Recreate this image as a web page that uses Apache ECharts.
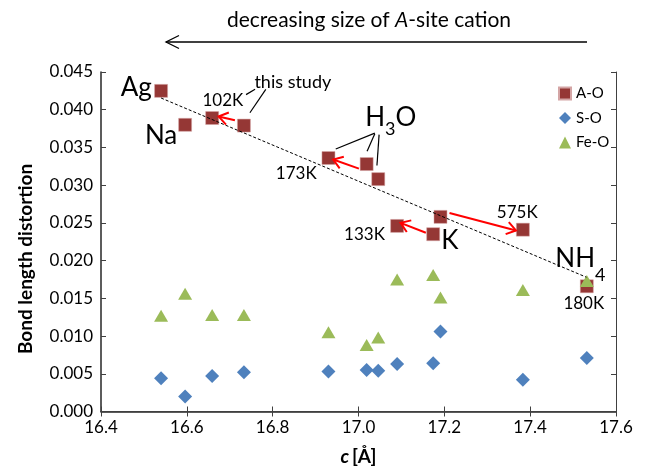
<!DOCTYPE html>
<html>
<head>
<meta charset="utf-8">
<script src="https://cdn.jsdelivr.net/npm/echarts@6/dist/echarts.min.js"></script>
<style>
html, body { margin: 0; padding: 0; background: #fff; }
#chart { width: 646px; height: 469px; }
</style>
</head>
<body>
<div id="chart"></div>
<script>
// lattice parameter c [A] of the twelve compounds (Ag, Na, 102K, ..., NH4)
var cValues = [16.540, 16.596, 16.659, 16.733, 16.930, 17.019, 17.046, 17.090, 17.174, 17.191, 17.383, 17.532];
var distAO  = [0.0425, 0.0380, 0.0389, 0.0379, 0.0336, 0.0328, 0.0308, 0.0246, 0.0235, 0.0258, 0.0241, 0.0166];
var distSO  = [0.0044, 0.0020, 0.0047, 0.0052, 0.0053, 0.0055, 0.0054, 0.0063, 0.0064, 0.0106, 0.0042, 0.0071];
var distFeO = [0.0127, 0.0156, 0.0128, 0.0128, 0.0105, 0.0088, 0.0098, 0.0175, 0.0181, 0.0151, 0.0161, 0.0173];

// dashed trend line through the A-O points
var trendC = [16.540, 17.531];
var trendD = [0.04155, 0.0178];

// red temperature arrows (from -> to)
var arrowFrom = [[16.712, 0.0386], [17.001, 0.0322], [17.157, 0.0237], [17.212, 0.0263]];
var arrowTo   = [[16.674, 0.0391], [16.941, 0.0334], [17.098, 0.0250], [17.367, 0.0240]];

// black leader lines of the "this study" and H3O notes
var leaderFrom = [[16.738, 0.0420], [16.784, 0.0427], [17.038, 0.0369], [17.038, 0.0368], [17.048, 0.0367]];
var leaderTo   = [[16.759, 0.0427], [16.747, 0.0396], [16.947, 0.0348], [17.020, 0.0345], [17.043, 0.0326]];

// text notes inside the plot
var noteText = ['Ag', 'Na', '102K', 'this study', 'H3O', '173K', '133K', 'K', '575K', 'NH4', '180K'];
var noteC = [16.482, 16.540, 16.684, 16.847, 17.075, 16.855, 17.014, 17.213, 17.370, 17.517, 17.525];
var noteD = [0.0429, 0.0366, 0.0412, 0.0436, 0.0389, 0.0316, 0.0234, 0.0227, 0.0264, 0.0203, 0.0143];

var xTicks = { min: 16.4, max: 17.6, step: 0.2 };
var yTicks = { min: 0, max: 0.045, step: 0.005 };

var FONT = 'Lato';

function zip(xs, ys) {
    return xs.map(function(x, i) { return [x, ys[i]]; });
}

function noteLabel(t) {
    if (t === 'H3O') return '{h|H}{hs|3}{h|O}';
    if (t === 'NH4') return '{n|NH}{ns|4}';
    if (t === 'Ag' || t === 'Na' || t === 'K') return '{big|' + t + '}';
    if (t === 'this study') return '{st|' + t + '}';
    return '{sm|' + t + '}';
}

function segRender(color, width, head) {
    return function(params, api) {
        var p1 = api.coord([api.value(0), api.value(1)]);
        var p2 = api.coord([api.value(2), api.value(3)]);
        var kids = [{
            type: 'line',
            shape: { x1: p1[0], y1: p1[1], x2: p2[0], y2: p2[1] },
            style: { stroke: color, lineWidth: width }
        }];
        if (head) {
            var dx = p2[0] - p1[0], dy = p2[1] - p1[1];
            var len = Math.sqrt(dx * dx + dy * dy);
            var ux = dx / len, uy = dy / len;
            var L = 11, a = 0.6;
            var ca = Math.cos(a), sa = Math.sin(a);
            var l1 = [p2[0] - L * (ux * ca - uy * sa), p2[1] - L * (uy * ca + ux * sa)];
            var l2 = [p2[0] - L * (ux * ca + uy * sa), p2[1] - L * (uy * ca - ux * sa)];
            kids.push({
                type: 'polyline',
                shape: { points: [l1, p2, l2] },
                style: { stroke: color, lineWidth: width, fill: null }
            });
        }
        return { type: 'group', children: kids };
    };
}

var chart = echarts.init(document.getElementById('chart'));

var axisLineDark = { show: true, lineStyle: { color: '#262626', width: 1.5 } };
var axisLineThin = { show: true, lineStyle: { color: '#404040', width: 1 } };
var tickIn = { show: true, inside: true, length: 5, lineStyle: { color: '#404040', width: 1 } };

var option = {
    backgroundColor: '#fff',
    animation: false,
    textStyle: { fontFamily: FONT },
    grid: { left: 101, right: 30, top: 72, bottom: 57.5, containLabel: false, outerBoundsMode: 'none' },
    legend: {
        data: ['A-O', 'S-O', 'Fe-O'],
        orient: 'vertical',
        left: 558,
        top: 86,
        padding: 0,
        itemWidth: 12,
        itemHeight: 12,
        itemGap: 9.5,
        textStyle: { fontFamily: FONT, fontSize: 15, color: '#000' }
    },
    xAxis: [{
        type: 'value',
        min: xTicks.min, max: xTicks.max, interval: xTicks.step,
        position: 'bottom',
        axisLine: axisLineDark,
        axisTick: tickIn,
        splitLine: { show: false },
        axisLabel: {
            fontFamily: FONT, fontSize: 17, color: '#000', margin: 8,
            formatter: function(v) { return v.toFixed(1); }
        },
        name: '{i|c} {b|[Å]}',
        nameLocation: 'middle',
        nameGap: 36,
        nameTextStyle: {
            rich: {
                i: { fontFamily: FONT, fontSize: 19, fontWeight: 'bold', fontStyle: 'italic', color: '#000' },
                b: { fontFamily: FONT, fontSize: 19, fontWeight: 'bold', color: '#000' }
            }
        }
    }, {
        type: 'value',
        min: xTicks.min, max: xTicks.max, interval: xTicks.step,
        position: 'top',
        axisLine: axisLineThin,
        axisTick: tickIn,
        axisLabel: { show: false },
        splitLine: { show: false }
    }],
    yAxis: [{
        type: 'value',
        min: yTicks.min, max: yTicks.max, interval: yTicks.step,
        position: 'left',
        axisLine: axisLineDark,
        axisTick: tickIn,
        splitLine: { show: false },
        axisLabel: {
            fontFamily: FONT, fontSize: 17, color: '#000', margin: 8,
            formatter: function(v) { return v.toFixed(3); }
        }
    }, {
        type: 'value',
        min: yTicks.min, max: yTicks.max, interval: yTicks.step,
        position: 'right',
        axisLine: axisLineThin,
        axisTick: tickIn,
        axisLabel: { show: false },
        splitLine: { show: false }
    }],
    graphic: [{
        type: 'text',
        x: 369, y: 20,
        style: {
            text: '{r|decreasing size of }{it|A}{r|-site cation}',
            align: 'center', verticalAlign: 'middle',
            rich: {
                r: { fontFamily: FONT, fontSize: 21, fill: '#000' },
                it: { fontFamily: FONT, fontSize: 21, fontStyle: 'italic', fill: '#000' }
            }
        }
    }, {
        type: 'line',
        shape: { x1: 166, y1: 42, x2: 587, y2: 42 },
        style: { stroke: '#000', lineWidth: 1.3 }
    }, {
        type: 'polyline',
        shape: { points: [[179, 35.5], [166, 42], [179, 48.5]] },
        style: { stroke: '#000', lineWidth: 1.3, fill: null }
    }, {
        type: 'text',
        x: 26, y: 259,
        rotation: Math.PI / 2,
        style: {
            text: 'Bond length distortion',
            align: 'center', verticalAlign: 'middle',
            fontFamily: FONT, fontSize: 19, fontWeight: 'bold', fill: '#000'
        }
    }],
    series: [{
        name: 'A-O',
        type: 'scatter',
        symbol: 'rect',
        symbolSize: 13,
        itemStyle: { color: '#953735', borderColor: '#d4a5a5', borderWidth: 0.5, opacity: 1 },
        data: zip(cValues, distAO),
        z: 2
    }, {
        name: 'S-O',
        type: 'scatter',
        symbol: 'diamond',
        symbolSize: 14,
        itemStyle: { color: '#4f81bd', opacity: 1 },
        data: zip(cValues, distSO),
        z: 2
    }, {
        name: 'Fe-O',
        type: 'scatter',
        symbol: 'triangle',
        symbolSize: [14, 12],
        itemStyle: { color: '#9bbb59', opacity: 1 },
        data: zip(cValues, distFeO),
        z: 3
    }, {
        type: 'line',
        data: zip(trendC, trendD),
        showSymbol: false,
        symbol: 'none',
        silent: true,
        lineStyle: { color: '#000', width: 1, type: [3, 2] },
        z: 4
    }, {
        type: 'custom',
        renderItem: segRender('#ff0000', 2, true),
        data: arrowFrom.map(function(f, i) { return [f[0], f[1], arrowTo[i][0], arrowTo[i][1]]; }),
        encode: { x: [0, 2], y: [1, 3] },
        silent: true,
        z: 5
    }, {
        type: 'custom',
        renderItem: segRender('#000', 1.2, false),
        data: leaderFrom.map(function(f, i) { return [f[0], f[1], leaderTo[i][0], leaderTo[i][1]]; }),
        encode: { x: [0, 2], y: [1, 3] },
        silent: true,
        z: 5
    }, {
        type: 'scatter',
        symbolSize: 0,
        silent: true,
        z: 6,
        itemStyle: { opacity: 1 },
        data: noteText.map(function(t, i) { return { name: t, value: [noteC[i], noteD[i]] }; }),
        label: {
            show: true,
            position: 'inside',
            color: '#000',
            formatter: function(p) { return noteLabel(p.name); },
            rich: {
                big: { fontFamily: FONT, fontSize: 26, color: '#000' },
                sm: { fontFamily: FONT, fontSize: 17, color: '#000' },
                st: { fontFamily: FONT, fontSize: 18, color: '#000' },
                h: { fontFamily: FONT, fontSize: 26, lineHeight: 40, verticalAlign: 'middle', color: '#000' },
                hs: { fontFamily: FONT, fontSize: 18, lineHeight: 18, verticalAlign: 'bottom', color: '#000' },
                n: { fontFamily: FONT, fontSize: 26, lineHeight: 52, verticalAlign: 'middle', color: '#000' },
                ns: { fontFamily: FONT, fontSize: 18, lineHeight: 18, verticalAlign: 'bottom', color: '#000' }
            }
        }
    }]
};

chart.setOption(option);
</script>
</body>
</html>
